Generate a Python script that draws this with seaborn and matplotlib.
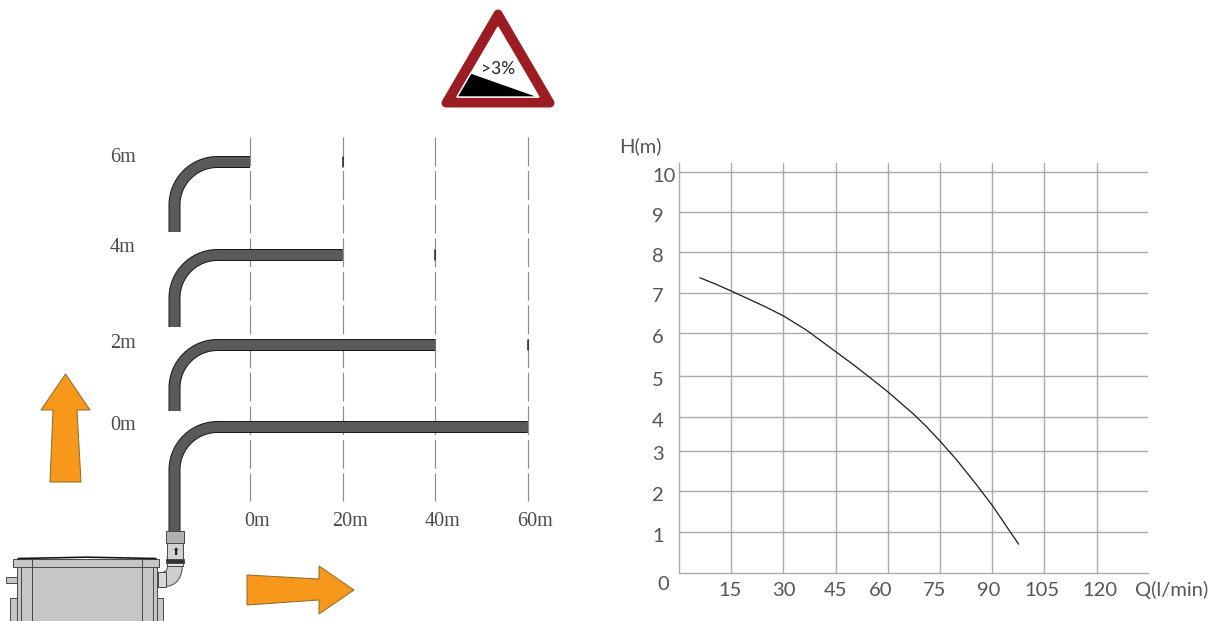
import matplotlib
matplotlib.use("Agg")
import numpy as np
import pandas as pd
import seaborn as sns
import matplotlib.pyplot as plt
from matplotlib.patches import Polygon, Rectangle, PathPatch
from matplotlib.path import Path
from matplotlib.transforms import ScaledTranslation

# pump curve
flow = [6, 10, 15, 20, 25.2, 30.2, 36.7, 45, 50, 54.9, 60.1, 67.3, 71, 75, 79.8, 85.5, 90, 97.6]
head = [7.36, 7.22, 7.03, 6.83, 6.62, 6.40, 6.05, 5.52, 5.20, 4.87, 4.51, 3.97, 3.66, 3.29, 2.82, 2.20, 1.69, 0.72]
flow_ticks = [15, 30, 45, 60, 75, 90, 105, 120]
# the printed grid is not evenly spaced, these are the line heights as drawn
head_lines = [1.02, 2.04, 3.05, 3.89, 4.90, 5.98, 6.99, 7.99, 9.0, 10.0]
head_labels = ["1", "2", "3", "4", "5", "6", "7", "8", "9", "10"]

# pipe runs: rise and horizontal reach in metres
rise_m = [6, 4, 2, 0]
reach_m = [0, 20, 40, 60]
reach_ticks = [0, 20, 40, 60]

W, H = 1214, 621
GREY = "#ababab"
TXT = "#555555"
ORANGE = "#f7981d"
AXFONT = ["Lato", "DejaVu Sans"]
SERIF = ["Liberation Serif", "DejaVu Serif"]
AXSIZE = 14.5

sns.set_theme(style="whitegrid", rc={"axes.edgecolor": GREY, "grid.color": GREY})
fig = plt.figure(figsize=(W / 100, H / 100), dpi=100, facecolor="white")


def px(n):
    return n * 0.72


def draw_chart():
    ax = fig.add_axes([679 / W, 1 - 573 / H, (1148 - 679) / W, (573 - 163) / H])
    df = pd.DataFrame({"Q": flow, "H": head})
    sns.lineplot(data=df, x="Q", y="H", ax=ax, color="#222222", linewidth=px(1.3), zorder=5)
    ax.set_xlim(0, 134.8)
    ax.set_ylim(0, 10.22)
    ax.set_xticks(flow_ticks)
    ax.set_yticks(head_lines)
    ax.set_yticklabels(head_labels)
    ax.set_xlabel("")
    ax.set_ylabel("")
    ax.grid(True, linewidth=px(1.4), color=GREY)
    ax.set_axisbelow(True)
    ax.patch.set_alpha(0)
    sns.despine(ax=ax, top=True, right=True)
    for s in ["left", "bottom"]:
        ax.spines[s].set_linewidth(px(1.4))
        ax.spines[s].set_color(GREY)
    ax.tick_params(axis="x", length=0, pad=6.5, labelsize=AXSIZE, labelcolor=TXT)
    ax.tick_params(axis="y", length=0, pad=19.5, labelsize=AXSIZE, labelcolor=TXT)
    off = ScaledTranslation(0, -2 / 72, fig.dpi_scale_trans)
    for lab in ax.get_yticklabels():
        lab.set_ha("left")
        lab.set_family(AXFONT)
        lab.set_transform(lab.get_transform() + off)
    # labels sit a little off their grid lines in the original
    nudge = [-1, 0, 0, -7, -5, -3, -2, 3]
    for lab, dx in zip(ax.get_xticklabels(), nudge):
        lab.set_family(AXFONT)
        lab.set_transform(lab.get_transform() + ScaledTranslation(dx / 100, 0, fig.dpi_scale_trans))
    kw = dict(textcoords="offset points", ha="center", va="center", fontsize=AXSIZE, color=TXT,
              family=AXFONT, annotation_clip=False)
    ax.annotate("0", (0, 0), xytext=(-11, -8.5), **kw)
    ax.annotate("H(m)", (0, 10.22), xytext=(-28, 12), **kw)
    ax.annotate("Q(l/min)", (134.8, 0), xytext=(17, -12.5), **kw)


def reach_x(m):
    return 250 + m * 4.63


def pipe(ov, y_top, y_bottom, x_end):
    r = 43
    x0 = 174.5
    k = 0.5523 * r
    verts = [(x0, y_bottom), (x0, y_top + r), (x0, y_top + r - k), (x0 + r - k, y_top), (x0 + r, y_top), (x_end, y_top)]
    codes = [Path.MOVETO, Path.LINETO, Path.CURVE4, Path.CURVE4, Path.CURVE4, Path.LINETO]
    p = Path(verts, codes)
    ov.add_patch(PathPatch(p, fill=False, edgecolor="#1a1a1a", linewidth=px(12), capstyle="butt", zorder=3))
    ov.add_patch(PathPatch(p, fill=False, edgecolor="#5a5a5a", linewidth=px(10), capstyle="butt", zorder=4))


def draw_sketch():
    ov = fig.add_axes([0, 0, 1, 1])
    ov.set_xlim(0, W)
    ov.set_ylim(H, 0)
    ov.axis("off")

    # dashed distance lines and labels
    for m in reach_ticks:
        x = reach_x(m)
        ov.plot([x, x], [137, 501], color="#8c8c8c", linewidth=px(1.2), dashes=(24, 4), zorder=2)
        ov.text(x + 7.5, 522, f"{m}m", family=SERIF, fontsize=14.5, color="#4a4a4a", ha="center", va="center")

    # one pipe per rise
    y_tops = [162, 255, 345, 427]
    y_bottoms = [232, 327, 411, 531]
    label_y = [158, 247, 344, 425]
    for r, m, yt, yb, ly in zip(rise_m, reach_m, y_tops, y_bottoms, label_y):
        pipe(ov, yt, yb, reach_x(m))
        ov.text(123, ly, f"{r}m", family=SERIF, fontsize=14.5, color="#4a4a4a", ha="center", va="center")
        if m < 60:
            nx = reach_x(m + 20)
            ov.plot([nx, nx], [yt - 5, yt + 5], color="#222222", linewidth=px(1.5), zorder=3)

    # orange arrows
    up = [(65.5, 374), (90, 410), (77, 410), (81, 482), (50, 482), (53, 410), (41, 410)]
    right = [(247, 575), (319, 579), (319, 566), (354, 590), (319, 614), (319, 600), (247, 605)]
    for pts in (up, right):
        ov.add_patch(Polygon(pts, closed=True, facecolor=ORANGE, edgecolor="#8f6a2c", linewidth=px(1), zorder=3))

    # warning sign
    ov.add_patch(Polygon([(498, 14), (446, 103), (550, 103)], closed=True, facecolor="#9c1c24",
                         edgecolor="#9c1c24", linewidth=px(9), joinstyle="round", zorder=3))
    ov.add_patch(Polygon([(498, 27), (457, 97), (539, 97)], closed=True, facecolor="white", zorder=4))
    ov.add_patch(Polygon([(471, 73), (539, 97), (457, 97)], closed=True, facecolor="black", zorder=5))
    ov.text(498, 68.5, ">3%", fontsize=12.5, color="#222222", ha="center", va="center",
            family=["Lato", "DejaVu Sans"], zorder=6)

    # tank
    body = "#c6c6c6"
    line = "#4a4a4a"
    lw = px(1)
    def box(x, y, w, h, fc=body, z=3):
        ov.add_patch(Rectangle((x, y), w, h, facecolor=fc, edgecolor=line, linewidth=lw, zorder=z))
    box(6, 577, 11, 6)
    box(10, 598, 7, 30)
    box(157, 598, 6, 30)
    box(17, 560, 140, 70)
    box(13, 559, 146, 8)
    ov.plot([32, 32], [559, 621], color=line, linewidth=lw, zorder=4)
    ov.plot([142, 142], [559, 621], color=line, linewidth=lw, zorder=4)
    ov.plot([21, 21], [567, 621], color=line, linewidth=lw, zorder=4)
    ov.plot([153, 153], [567, 621], color=line, linewidth=lw, zorder=4)
    ov.plot([18, 87, 156], [558.5, 557.2, 558.5], color="#111111", linewidth=px(1.6), zorder=4)

    # outlet elbow and coupling
    elbow = Path([(164, 579), (171, 579), (175, 575), (175, 563)], [Path.MOVETO, Path.CURVE4, Path.CURVE4, Path.CURVE4])
    ov.add_patch(PathPatch(elbow, fill=False, edgecolor=line, linewidth=px(16), capstyle="butt", zorder=3))
    ov.add_patch(PathPatch(elbow, fill=False, edgecolor="#cfcfcf", linewidth=px(14), capstyle="butt", zorder=3))
    box(158, 572, 8, 15, fc="#d8d8d8", z=4)
    box(166, 531, 18, 12, fc="#b0b0b0", z=5)
    box(167, 543, 16, 16, fc="#d2d2d2", z=5)
    box(166, 559, 18, 4, fc="#333333", z=5)
    box(167, 563, 16, 3, fc="#e4e4e4", z=5)
    ov.text(175, 552, "\u2b06", fontsize=7, color="#222222", ha="center", va="center",
            family="DejaVu Sans", zorder=6)


draw_chart()
draw_sketch()
fig.savefig("out.png", dpi=100)
plt.close(fig)
